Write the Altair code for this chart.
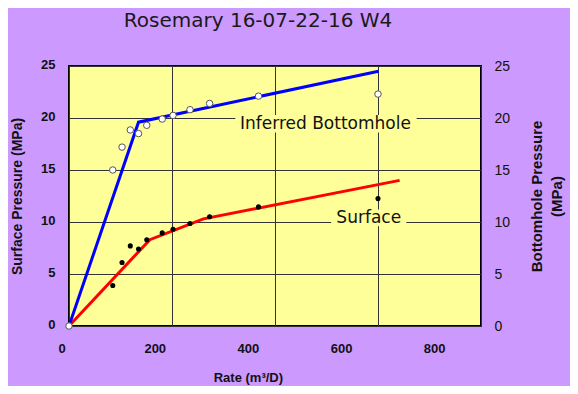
import altair as alt
import pandas as pd

# Measured data
rate = [85, 103, 119, 135, 151, 181, 202, 235, 273, 368, 600]
bottomhole = [15.0, 17.2, 18.85, 18.5, 19.3, 19.9, 20.25, 20.8, 21.4, 22.1, 22.3]
surface = [3.9, 6.1, 7.7, 7.4, 8.3, 8.95, 9.3, 9.85, 10.5, 11.45, 12.25]

# Fitted (piecewise) lines
blue_x = [0, 135, 601]
blue_y = [0, 19.6, 24.5]
red_x = [0, 157, 261, 642]
red_y = [0, 8.3, 10.3, 14.0]

# Annotations
label_text = ["Inferred Bottomhole", "Surface"]
label_x = [498, 582]
label_y = [19.4, 10.4]
box_x1 = [323, 509]
box_x2 = [675, 655]
box_y1 = [18.6, 9.6]
box_y2 = [20.3, 11.2]

x_ticks = [0, 200, 400, 600, 800]
y_ticks = [0, 5, 10, 15, 20, 25]

PURPLE = "#CC99FF"
YELLOW = "#FFFF99"

pts = pd.DataFrame({"rate": rate, "bh": bottomhole, "sf": surface})
origin = pd.DataFrame({"rate": [0], "p": [0]})
blue = pd.DataFrame({"rate": blue_x, "p": blue_y, "o": range(len(blue_x))})
red = pd.DataFrame({"rate": red_x, "p": red_y, "o": range(len(red_x))})
labels = pd.DataFrame({"t": label_text, "x": label_x, "y": label_y})
boxes = pd.DataFrame({"x1": box_x1, "x2": box_x2, "y1": box_y1, "y2": box_y2})

xscale = alt.Scale(domain=[0, 800], nice=False)
# the original chart's x tick labels are drawn on a slightly compressed scale
xlabel_scale = alt.Scale(domain=[0, 800], range=[-7.4, 365.2], nice=False)
yscale = alt.Scale(domain=[0, 25], nice=False)

xaxis_grid = alt.Axis(
    values=x_ticks, title=None, grid=True, labels=False,
    gridColor="#333333", gridWidth=1, gridOpacity=1, ticks=False, domain=False,
)
xaxis_labels = alt.Axis(
    values=x_ticks, title="Rate (m³/D)", grid=False, orient="bottom",
    ticks=False, domain=False,
    labelFont="Liberation Sans", labelFontWeight="bold", labelFontSize=13,
    labelColor="#111111", labelPadding=16, labelFlush=False,
    titleFont="Liberation Sans", titleFontWeight="bold", titleFontSize=13,
    titleColor="#111111", titlePadding=16,
)
yaxis_left = alt.Axis(
    values=y_ticks, title="Surface  Pressure  (MPa)", grid=True,
    gridColor="#333333", gridWidth=1, gridOpacity=1, ticks=False, domain=False,
    orient="left",
    labelFont="Liberation Sans", labelFontWeight="bold", labelFontSize=13,
    labelColor="#111111", labelPadding=14, labelFlush=False, labelOffset=-2,
    titleFont="Liberation Sans", titleFontWeight="bold", titleFontSize=14,
    titleColor="#111111", titlePadding=16, titleY=130, titleAlign="center",
)
yaxis_right = alt.Axis(
    values=y_ticks, title=["Bottomhole  Pressure", "(MPa)"], grid=False,
    ticks=False, domain=False, orient="right",
    labelFont="Liberation Sans", labelFontWeight="normal", labelFontSize=14,
    labelColor="#111111", labelPadding=13, labelFlush=False,
    titleFont="Liberation Sans", titleFontWeight="bold", titleFontSize=15,
    titleColor="#111111", titlePadding=15, titleAngle=270, titleLineHeight=20,
)

red_line = alt.Chart(red).mark_line(color="#FF0000", strokeWidth=3).encode(
    x=alt.X("rate:Q", scale=xscale, axis=xaxis_grid),
    y=alt.Y("p:Q", scale=yscale, axis=yaxis_left), order="o:O"
)
box_layer = alt.Chart(boxes).mark_rect(color=YELLOW).encode(
    x=alt.X("x1:Q", scale=xscale), x2="x2:Q",
    y=alt.Y("y1:Q", scale=yscale), y2="y2:Q",
)
blue_line = alt.Chart(blue).mark_line(color="#0000FF", strokeWidth=3).encode(
    x=alt.X("rate:Q", scale=xscale), y=alt.Y("p:Q", scale=yscale), order="o:O"
)
sf_pts = alt.Chart(pts).mark_circle(color="#000000", size=26, opacity=1).encode(
    x=alt.X("rate:Q", scale=xscale), y=alt.Y("sf:Q", scale=yscale)
)
bh_pts = alt.Chart(pts).mark_point(
    shape="circle", filled=True, fill="white", stroke="#555555", strokeWidth=1,
    size=42, opacity=1
).encode(
    x=alt.X("rate:Q", scale=xscale), y=alt.Y("bh:Q", scale=yscale)
)
origin_pt = alt.Chart(origin).mark_point(
    shape="circle", filled=True, fill="white", stroke="#555555", strokeWidth=1,
    size=42, opacity=1
).encode(
    x=alt.X("rate:Q", scale=xscale), y=alt.Y("p:Q", scale=yscale)
)
text_layer = alt.Chart(labels).mark_text(
    font="DejaVu Sans", fontSize=17, color="#111111", align="center", baseline="middle"
).encode(
    x=alt.X("x:Q", scale=xscale), y=alt.Y("y:Q", scale=yscale), text="t:N"
)

left = alt.layer(red_line, box_layer, blue_line, sf_pts, bh_pts, origin_pt, text_layer)

right = alt.Chart(origin).mark_point(opacity=0).encode(
    x=alt.X("rate:Q", scale=xlabel_scale, axis=xaxis_labels),
    y=alt.Y("p:Q", scale=yscale, axis=yaxis_right),
)

chart = alt.layer(left, right).resolve_scale(x="independent", y="independent").properties(
    width=412, height=260,
    background=PURPLE,
    autosize=alt.AutoSizeParams(type="none"),
    padding={"left": 61, "top": 58, "right": 89, "bottom": 60},
    title=alt.TitleParams(
        "Rosemary 16-07-22-16 W4", font="DejaVu Sans", fontSize=20,
        fontWeight="normal", color="#1a1a1a", dx=-17, offset=27, anchor="middle",
    ),
).configure_view(
    fill=YELLOW, stroke="#000000", strokeWidth=2
)

chart.save("out.html", embed_options={"renderer": "svg", "actions": False})
